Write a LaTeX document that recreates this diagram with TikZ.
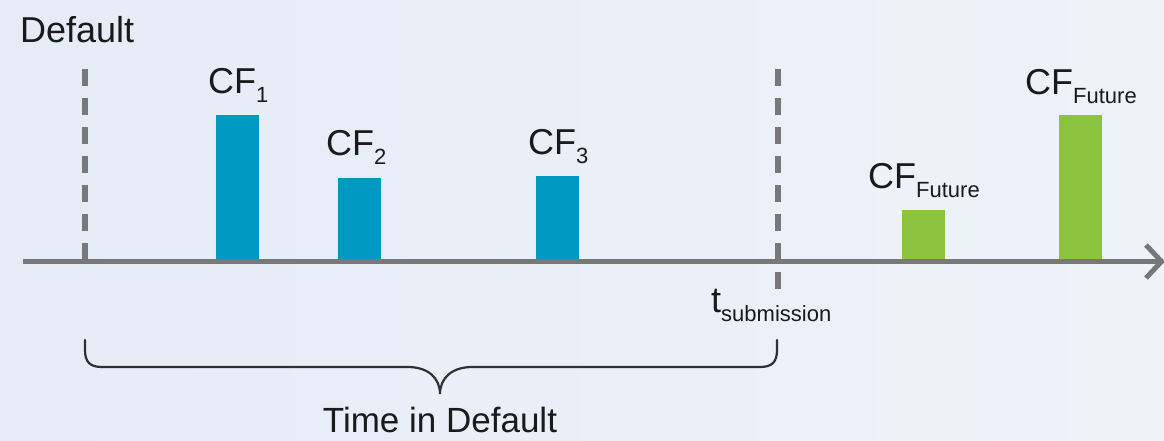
\documentclass[tikz,border=0pt]{standalone}
\usepackage{fontspec}
\setmainfont{Liberation Sans}
\definecolor{bgL}{HTML}{E5ECF6}
\definecolor{bgR}{HTML}{EFF2F9}
\definecolor{axgray}{HTML}{787878}
\definecolor{cfblue}{HTML}{0099C2}
\definecolor{cfgreen}{HTML}{8CC43F}
\definecolor{txt}{HTML}{1A1A1A}
\definecolor{brace}{HTML}{303030}
\newcommand\lbl[2]{#1\raisebox{-9.5pt}{\fontsize{22}{24}\selectfont #2}}
\tikzset{
  bar/.style={rectangle, inner sep=0pt, minimum width=43pt, anchor=south, draw=none},
  bluebar/.style={bar, fill=cfblue},
  greenbar/.style={bar, fill=cfgreen},
  cflabel/.style={anchor=base west, inner sep=0pt, text=txt, font=\fontsize{36}{40}\selectfont},
  axisline/.style={draw=axgray, line width=5pt},
  dashline/.style={draw=axgray, line width=6pt, dash pattern=on 17pt off 12pt},
  bracepath/.style={draw=brace, line width=2.2pt, line cap=round}
}
\begin{document}
\begin{tikzpicture}[x=1pt,y=-1pt]
\useasboundingbox (0,0) rectangle (1164,440);
\shade[left color=bgL, right color=bgR] (0,0) rectangle (1164,440);
% axis
\coordinate (ax0) at (23,261.5);
\coordinate (ax1) at (1160,261.5);
\coordinate (arU) at (1146,245);
\coordinate (arT) at (1161.5,261.5);
\coordinate (arD) at (1146,278);
% dashed markers
\coordinate (d1t) at (85,69);
\coordinate (d1b) at (85,261.5);
\coordinate (d2t) at (777.5,69);
\coordinate (d2b) at (777.5,289);
\path[dashline] (d1t) -- (d1b);
\path[dashline] (d2t) -- (d2b);
% bars
\node[bluebar, minimum height=146pt] (b1) at (237.5,261.5) {};
\node[bluebar, minimum height=83pt] (b2) at (359.5,261.5) {};
\node[bluebar, minimum height=85pt] (b3) at (557.5,261.5) {};
\node[greenbar, minimum height=51pt] (g1) at (923.5,261.5) {};
\node[greenbar, minimum height=146pt] (g2) at (1080.5,261.5) {};
\path[axisline] (ax0) -- (ax1);
\path[axisline, line join=miter] (arU) -- (arT) -- (arD);
% labels
\node[cflabel] (l1) at (208,93) {\lbl{CF}{1}};
\node[cflabel] (l2) at (326,155) {\lbl{CF}{2}};
\node[cflabel] (l3) at (528,154) {\lbl{CF}{3}};
\node[cflabel] (l4) at (868,188) {\lbl{CF}{Future}};
\node[cflabel] (l5) at (1025,94) {\lbl{CF}{Future}};
\node[cflabel] (ts) at (711,312) {\lbl{t}{submission}};
\node[cflabel] (def) at (20,42) {Default};
% brace
\coordinate (brL) at (85,340);
\coordinate (brR) at (777,340);
\coordinate (brT) at (440,394);
\path[bracepath] (brL) -- (85,350) .. controls (85,362) and (90,367) .. (102,367)
  -- (408,367) .. controls (428,367) and (440,378) .. (brT)
  .. controls (440,378) and (452,367) .. (472,367)
  -- (760,367) .. controls (772,367) and (777,362) .. (777,350) -- (brR);
\node[anchor=base, inner sep=0pt, text depth=0pt, text=txt, font=\fontsize{35}{38}\selectfont] (tid) at (440,432.5) {Time in Default};
\end{tikzpicture}
\end{document}
